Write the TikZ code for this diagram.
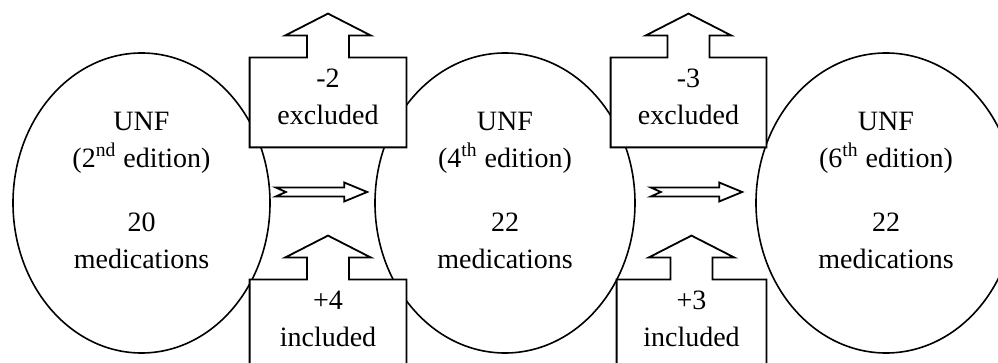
\documentclass[tikz,border=0pt]{standalone}
\usepackage{fontspec}
\setmainfont{Liberation Serif}
\usetikzlibrary{shapes.geometric,calc}
\tikzstyle{edition}=[ellipse,draw,line width=0.8pt,minimum width=130pt,minimum height=150pt,inner sep=0pt]
\tikzstyle{change}=[rectangle,fill=white,minimum width=78pt,minimum height=44.5pt,inner sep=0pt]
\tikzstyle{outline}=[line width=0.9pt,fill=white]
\tikzstyle{txt}=[align=center,inner sep=0pt,font=\fontsize{14}{18.5}\selectfont]

\begin{document}
\begin{tikzpicture}[x=0.5pt,y=-0.5pt]
\clip (0,0) rectangle (998,363);
% the three editions
\node[edition,minimum width=128.5pt] at (141.5,203) (e2nd) {};
\node[edition] at (505,203) (e4th) {};
\node[edition] at (886,203) (e6th) {};
\node[txt] at ($(e2nd)+(0,-13)$) (t2nd) {UNF\\(2\textsuperscript{nd} edition)\\[13.5pt]20\\medications};
\node[txt] at ($(e4th)+(0,-13)$) (t4th) {UNF\\(4\textsuperscript{th} edition)\\[13.5pt]22\\medications};
\node[txt] at ($(e6th)+(0,-13)$) (t6th) {UNF\\(6\textsuperscript{th} edition)\\[13.5pt]22\\medications};

% excluded / included boxes
\node[change] at (328,102.5) (ex1) {};
\node[change,minimum width=77.5pt] at (688.5,102.5) (ex2) {};
\node[change] at (328,324.5) (in1) {};
\node[change,minimum width=74.5pt] at (691.5,324.5) (in2) {};
\foreach \b in {ex1,ex2,in1,in2}
  \draw[outline] (\b.south west) -- (\b.north west) -- ($(\b.north)+(-21,0)$) -- ++(0,-22) -- ++(-22,0)
    -- ($(\b.north)+(0,-44)$) -- ($(\b.north)+(43,-22)$) -- ++(-22,0) -- ++(0,22)
    -- (\b.north east) -- (\b.south east) -- cycle;
\node[txt] at ($(ex1)+(0,-5.5)$) (ex1t) {-2\\excluded};
\node[txt] at ($(ex2)+(0,-5.5)$) (ex2t) {-3\\excluded};
\node[txt] at ($(in1)+(0,-5.5)$) (in1t) {+4\\included};
\node[txt] at ($(in2)+(0,-5.5)$) (in2t) {+3\\included};

% hollow arrows between editions
\coordinate (a1s) at ($(e2nd.east)+(5,-11)$);
\coordinate (a1e) at ($(e4th.west)+(-7,-11)$);
\coordinate (a2s) at ($(e4th.east)+(15,-11)$);
\coordinate (a2e) at ($(e6th.west)+(-13,-11)$);
\foreach \st/\tp in {a1s/a1e,a2s/a2e}
  \draw[outline] ($(\st)+(0,-4.5)$) -- ($(\tp)+(-23,-4.5)$) -- ($(\tp)+(-23,-9.5)$) -- (\tp)
    -- ($(\tp)+(-23,9.5)$) -- ($(\tp)+(-23,4.5)$) -- ($(\st)+(0,4.5)$) -- ($(\st)+(10,0)$) -- cycle;

\end{tikzpicture}
\end{document}
